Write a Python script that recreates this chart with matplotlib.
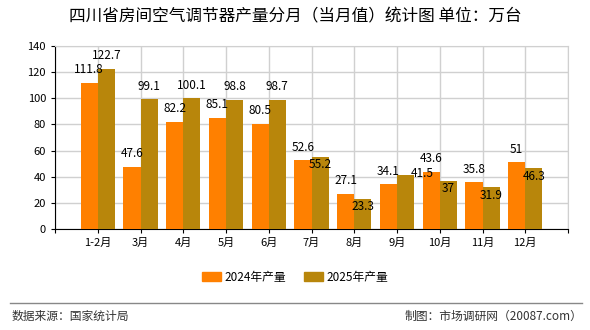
import numpy as np
import matplotlib
matplotlib.use("Agg")
import matplotlib.pyplot as plt
from matplotlib.patches import Patch

plt.rcParams['font.family'] = ['Noto Sans CJK SC', 'DejaVu Sans']

# data
months = ["1-2月", "3月", "4月", "5月", "6月", "7月", "8月", "9月", "10月", "11月", "12月"]
output_2024 = [111.8, 47.6, 82.2, 85.1, 80.5, 52.6, 27.1, 34.1, 43.6, 35.8, 51]
output_2025 = [122.7, 99.1, 100.1, 98.8, 98.7, 55.2, 23.3, 41.5, 37, 31.9, 46.3]
series_names = ["2024年产量", "2025年产量"]
title = "四川省房间空气调节器产量分月（当月值）统计图 单位：万台"

c24 = "#FF8000"
c25 = "#B8860B"

fig = plt.figure(figsize=(5.9, 3.3), dpi=100)
ax = fig.add_axes([55 / 590, 1 - 229 / 330, 513 / 590, 183 / 330])

x = np.arange(len(months))
w = 0.4
ax.bar(x - w / 2, output_2024, w, color=c24, zorder=3)
ax.bar(x + w / 2, output_2025, w, color=c25, zorder=3)

# value labels, 2025 label goes inside the bar when it would hit the 2024 one
for i in range(len(months)):
    a, b = output_2024[i], output_2025[i]
    ax.text(x[i] - w / 2, a + 10, f"{a:g}", ha="center", va="center", fontsize=8.5, zorder=4)
    d = b - a
    if d >= 10:
        ax.text(x[i] + w / 2, b + 10, f"{b:g}", ha="center", va="center", fontsize=8.5, zorder=4)
    elif d > 5:
        ax.text(x[i] + w / 2 + 0.4, b + 1, f"{b:g}", ha="center", va="center", fontsize=8.5, zorder=4)
    else:
        ax.text(x[i] + w / 2, b - 6, f"{b:g}", ha="center", va="center", fontsize=8.5, zorder=4)

ax.set_xlim(-1, len(months))
ax.set_ylim(0, 140)
ax.set_yticks(np.arange(0, 141, 20))
ax.set_xticks(np.arange(-1, len(months) + 1))
ax.set_xticklabels([""] + months + [""])
ax.tick_params(axis="both", labelsize=8, length=3, color="black")
ax.grid(True, color="#d0d0d0", linewidth=1, zorder=0)
for s in ["top", "right"]:
    ax.spines[s].set_color("#d0d0d0")
ax.spines["left"].set_color("black")
ax.spines["bottom"].set_color("black")

fig.text(0.5, 1 - 17 / 330, title, ha="center", va="center", fontsize=12)

handles = [Patch(color=c24), Patch(color=c25)]
fig.legend(handles, series_names, loc="center", bbox_to_anchor=(295 / 590, 1 - 277 / 330),
           ncol=2, frameon=False, fontsize=8.5, handlelength=1.6, handleheight=0.7,
           columnspacing=1.5, handletextpad=0.3)

fig.add_artist(plt.Line2D([10 / 590, 582 / 590], [1 - 303 / 330] * 2, color="#888888", linewidth=1))
fig.text(12 / 590, 1 - 316 / 330, "数据来源：国家统计局", ha="left", va="center", fontsize=8.5, color="#333333")
fig.text(582 / 590, 1 - 316 / 330, "制图：市场调研网（20087.com）", ha="right", va="center", fontsize=8.5, color="#333333")

fig.savefig("out.png", dpi=100)
